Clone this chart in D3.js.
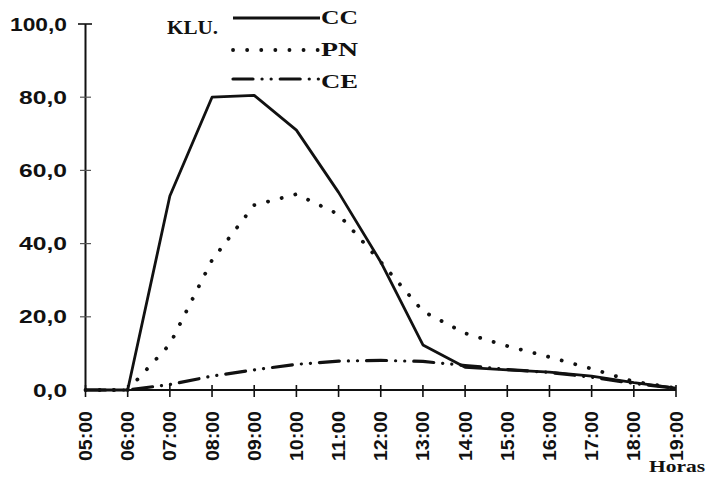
<!DOCTYPE html>
<html>
<head>
<meta charset="utf-8">
<script src="https://cdn.jsdelivr.net/npm/d3@7/dist/d3.min.js"></script>
<style>
  html, body { margin: 0; padding: 0; background: #ffffff; }
  svg { display: block; }
</style>
</head>
<body>
<svg id="chart" width="709" height="477"></svg>
<script>
// ---- data ----
const hours = ["05:00","06:00","07:00","08:00","09:00","10:00","11:00","12:00","13:00","14:00","15:00","16:00","17:00","18:00","19:00"];
const ccValues = [0, 0, 53, 80, 80.5, 71, 54, 35, 12.3, 6.2, 5.5, 4.9, 3.8, 2.0, 0.5];
const pnValues = [0, 0, 12.5, 35.5, 50.5, 53.5, 48, 35, 21.5, 15.5, 12, 9, 5.8, 2.3, 0.5];
const ceValues = [0, 0, 1.5, 3.8, 5.5, 7, 7.9, 8.1, 7.8, 6.7, 5.6, 4.8, 3.5, 1.8, 0.5];
const yTicks = [0, 20, 40, 60, 80, 100];
const seriesNames = ["CC", "PN", "CE"];
const legendTitle = "KLU.";
const xAxisTitle = "Horas";

// ---- layout ----
const svg = d3.select("#chart");
const x = d3.scalePoint().domain(hours).range([85.5, 676]);
const y = d3.scaleLinear().domain([0, 100]).range([390, 24]);
const ink = "#111";

const styles = {
  CC: { dash: null, width: 2.8, cap: "butt" },
  PN: { dash: "0.1,14", width: 3.8, cap: "round" },
  CE: { dash: "20,9,0.1,9,0.1,9", width: 3.2, cap: "round" }
};

// y axis
svg.append("line").attr("x1", x(hours[0])).attr("x2", x(hours[0]))
  .attr("y1", y(100)).attr("y2", y(0)).attr("stroke", ink).attr("stroke-width", 2);
svg.append("line").attr("x1", 78).attr("x2", 92).attr("y1", y(100)).attr("y2", y(100))
  .attr("stroke", ink).attr("stroke-width", 1.6);
yTicks.filter(d => d > 0 && d < 100).forEach(d => {
  svg.append("line").attr("x1", 80).attr("x2", 91).attr("y1", y(d)).attr("y2", y(d))
    .attr("stroke", "#555").attr("stroke-width", 1.2);
});

function labelWidth(s) {
  let w = 0;
  for (const c of s) w += (c === "1") ? 9 : (c === "," ? 6 : 14);
  return w;
}
yTicks.forEach(d => {
  const s = d.toFixed(1).replace(".", ",");
  svg.append("text").attr("x", 67).attr("y", y(d) + 6.5)
    .attr("text-anchor", "end")
    .attr("font-family", "'Liberation Sans', Arial, sans-serif")
    .attr("font-weight", "bold").attr("font-size", 17.5).attr("fill", ink)
    .attr("textLength", labelWidth(s)).attr("lengthAdjust", "spacingAndGlyphs")
    .text(s);
});

// x axis
svg.append("line").attr("x1", x(hours[0])).attr("x2", x(hours[hours.length - 1]))
  .attr("y1", y(0)).attr("y2", y(0)).attr("stroke", ink).attr("stroke-width", 2);
hours.forEach(h => {
  svg.append("line").attr("x1", x(h)).attr("x2", x(h)).attr("y1", 385).attr("y2", 397)
    .attr("stroke", ink).attr("stroke-width", 1.6);
  svg.append("text")
    .attr("transform", `translate(${x(h) + 6.5},411) rotate(-90)`)
    .attr("text-anchor", "end")
    .attr("font-family", "'Liberation Sans', Arial, sans-serif")
    .attr("font-weight", "bold").attr("font-size", 18).attr("fill", ink)
    .attr("textLength", 50).attr("lengthAdjust", "spacingAndGlyphs")
    .text(h);
});

// lines
const line = d3.line().x((d, i) => x(hours[i])).y(d => y(d));
const seriesData = { CC: ccValues, PN: pnValues, CE: ceValues };
["CE", "PN", "CC"].forEach(name => {
  const st = styles[name];
  svg.append("path").datum(seriesData[name])
    .attr("d", line).attr("fill", "none").attr("stroke", ink)
    .attr("stroke-width", st.width).attr("stroke-linecap", st.cap)
    .attr("stroke-linejoin", "round")
    .attr("stroke-dasharray", st.dash);
});

// legend
const serif = "'Liberation Serif', 'Times New Roman', serif";
svg.append("text").attr("x", 167).attr("y", 34).attr("font-family", serif)
  .attr("font-weight", "bold").attr("font-size", 18).attr("fill", ink)
  .attr("textLength", 51).attr("lengthAdjust", "spacingAndGlyphs").text(legendTitle);
const legendY = [18, 50, 79];
const legendTextY = [24, 56, 88];
seriesNames.forEach((name, i) => {
  const st = styles[name];
  svg.append("line").attr("x1", 233).attr("x2", 320)
    .attr("y1", legendY[i]).attr("y2", legendY[i])
    .attr("stroke", ink).attr("stroke-width", st.width)
    .attr("stroke-linecap", st.cap).attr("stroke-dasharray", st.dash);
  svg.append("text").attr("x", 321).attr("y", legendTextY[i]).attr("font-family", serif)
    .attr("font-weight", "bold").attr("font-size", 18).attr("fill", ink)
    .attr("textLength", 37).attr("lengthAdjust", "spacingAndGlyphs").text(name);
});

// x axis title
svg.append("text").attr("x", 649).attr("y", 472).attr("font-family", serif)
  .attr("font-weight", "bold").attr("font-size", 16).attr("fill", ink)
  .attr("textLength", 56).attr("lengthAdjust", "spacingAndGlyphs").text(xAxisTitle);
</script>
</body>
</html>
